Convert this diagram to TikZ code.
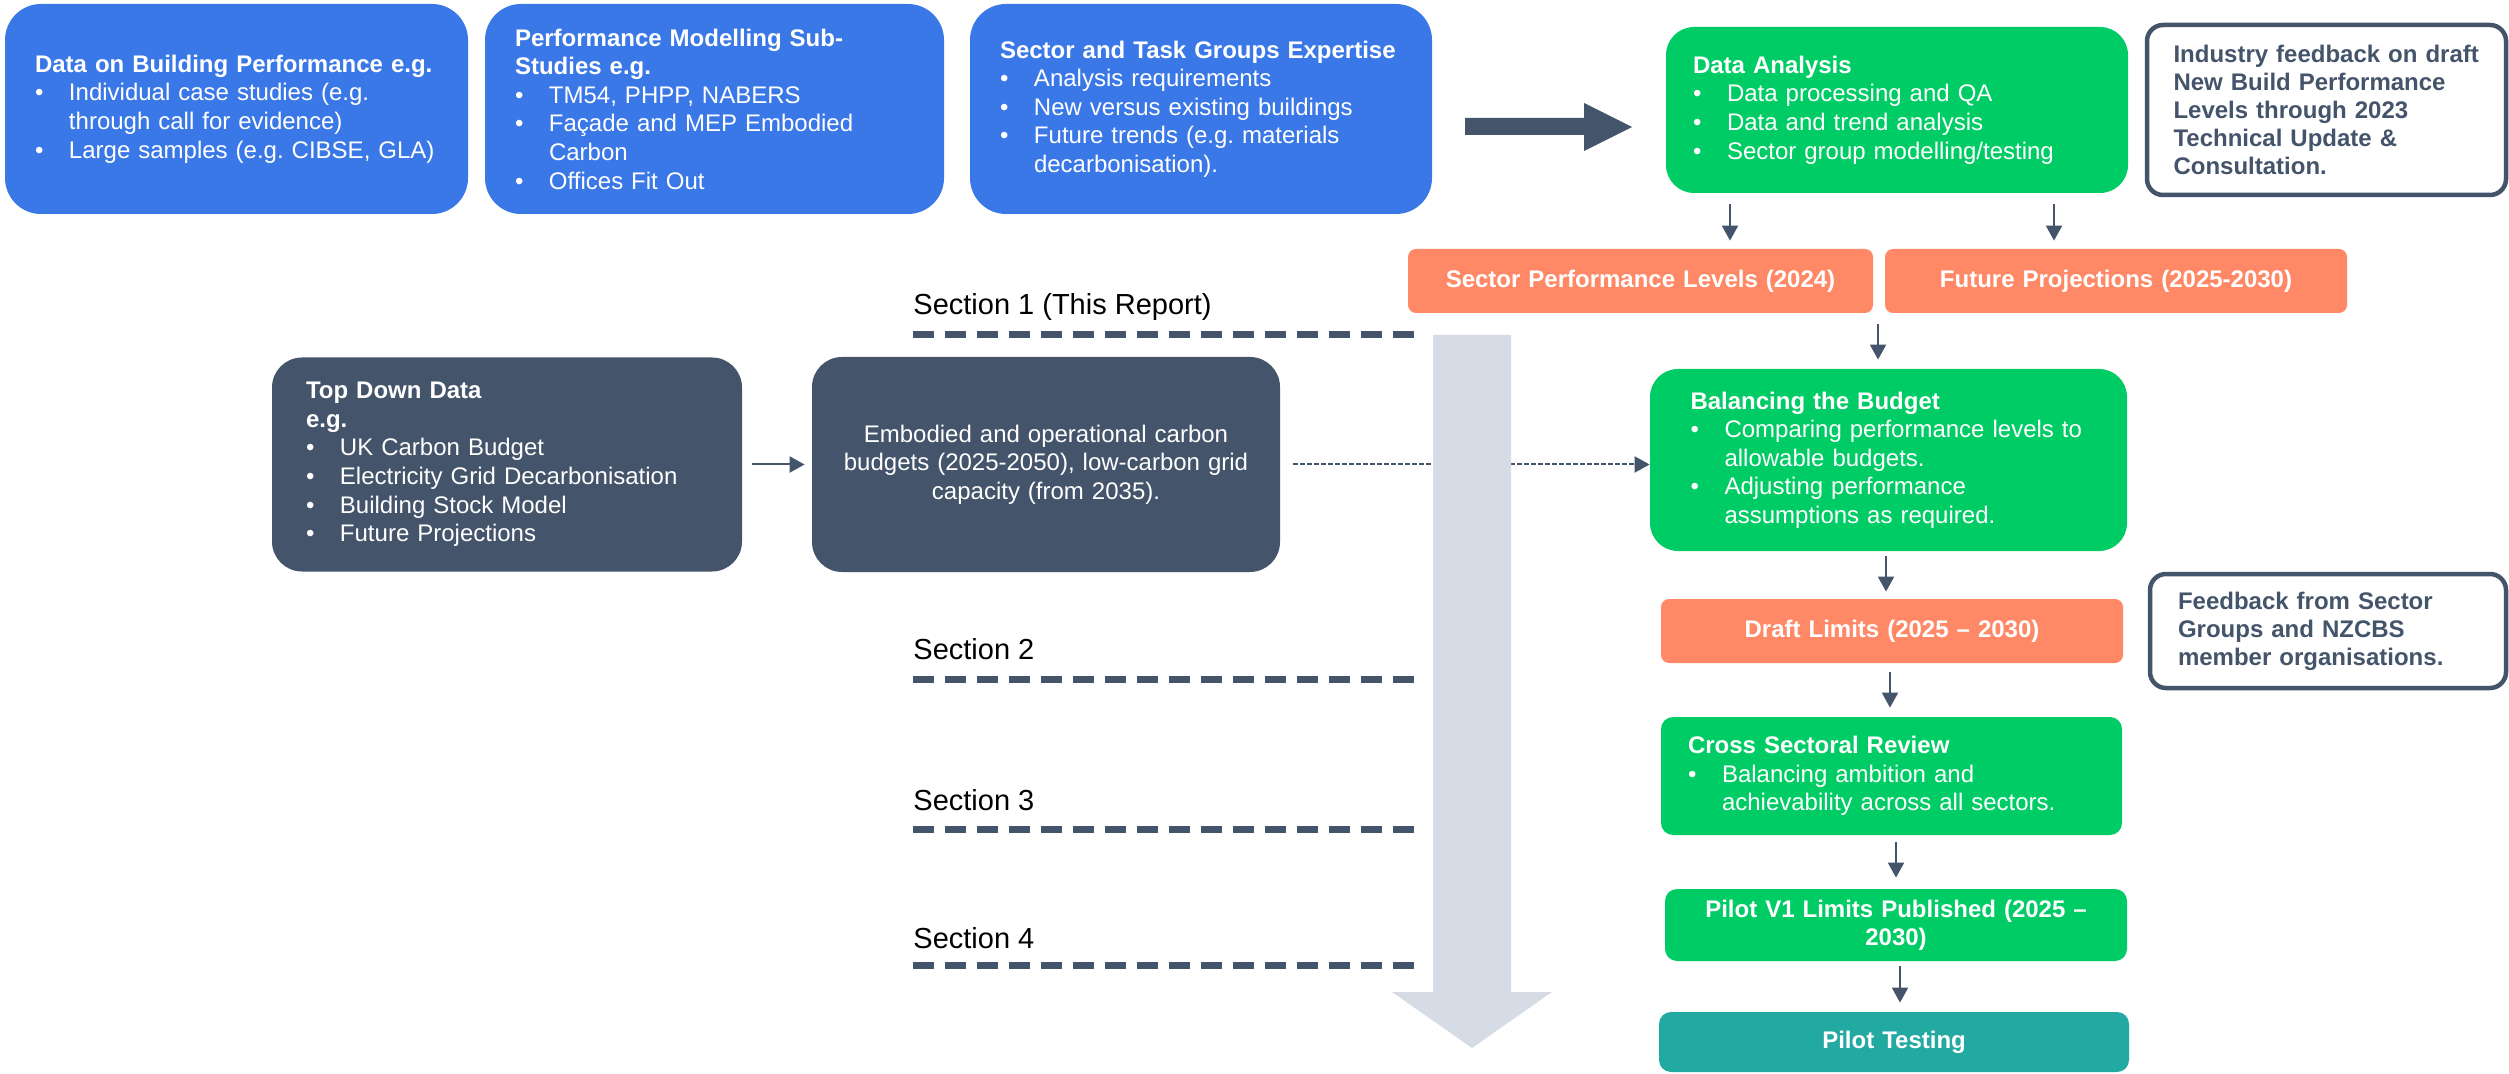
\documentclass[tikz,border=0pt]{standalone}
\usepackage{fontspec}
\setmainfont{Liberation Sans}
\usepackage{tikz}
\usetikzlibrary{arrows.meta}
\definecolor{blueback}{HTML}{3B78E7}
\definecolor{slate}{HTML}{44546A}
\definecolor{greenback}{HTML}{00CC66}
\definecolor{salmon}{HTML}{FF8966}
\definecolor{tealback}{HTML}{21A9A2}
\definecolor{shaftgray}{HTML}{D6DCE5}
\frenchspacing
\newcommand{\bul}[1]{\par\hangindent=17pt\hangafter=1\noindent\makebox[17pt][l]{\textbullet}#1\par}
\tikzset{
  arr/.style={-{Triangle[length=7.5pt,width=8pt]},line width=1pt,draw=slate},
  dotarr/.style={arr,dash pattern=on 2.25pt off 1.25pt},
  card/.style={rectangle,text=white,align=left,inner xsep=15pt,inner ysep=0pt,
    font=\fontsize{12}{14.3}\selectfont},
  bbox/.style={card,fill=blueback,rounded corners=18pt},
  sbox/.style={card,fill=slate,rounded corners=15pt},
  gbox/.style={card,fill=greenback,rounded corners=14pt},
  lbox/.style={card,align=center,inner xsep=4pt,rounded corners=4pt,
    font=\fontsize{12}{14}\selectfont\bfseries},
  nbox/.style={card,fill=white,draw=slate,line width=2.25pt,text=slate,
    rounded corners=8pt,font=\fontsize{12}{14}\selectfont\bfseries},
  seclbl/.style={anchor=west,inner sep=0pt,font=\fontsize{14.5}{17}\selectfont},
  secline/.style={draw=slate,line width=3.5pt,dash pattern=on 10.5pt off 5.5pt},
}

\begin{document}
\begin{tikzpicture}[x=0.5pt,y=-0.5pt]
\fill[white] (0,0) rectangle (2509,1074);
\useasboundingbox (0,0) rectangle (2509,1074);

% evidence along the top
\node[bbox,text width=201.5pt,minimum height=105pt] (bldg) at (236.5,109) {\textbf{Data on Building Performance e.g.}
  \bul{Individual case studies (e.g.\newline through call for evidence)}
  \bul{Large samples (e.g. CIBSE, GLA)}};
\node[bbox,text width=199.5pt,minimum height=105pt] (model) at (714.5,109) {\textbf{Performance Modelling Sub-\newline Studies e.g.}
  \bul{TM54, PHPP, NABERS}
  \bul{Façade and MEP Embodied\newline Carbon}
  \bul{Offices Fit Out}};
\node[bbox,text width=201pt,minimum height=105pt] (sector) at (1201,109) {\textbf{Sector and Task Groups Expertise}
  \bul{Analysis requirements}
  \bul{New versus existing buildings}
  \bul{Future trends (e.g. materials\newline decarbonisation).}};

% main flow on the right
\node[gbox,inner xsep=13.5pt,text width=204pt,minimum height=83pt] (da) at (1897,110) {\textbf{Data Analysis}
  \bul{Data processing and QA}
  \bul{Data and trend analysis}
  \bul{Sector group modelling/testing}};
\node[nbox,inner xsep=13.25pt,text width=153pt,minimum height=85pt] (ind) at (2326.5,110) {Industry feedback on draft\\New Build Performance\\Levels through 2023\\Technical Update \&\\Consultation.};
\node[lbox,fill=salmon,text width=224.5pt,minimum height=32pt] (spl) at (1640.5,281) {Sector Performance Levels (2024)};
\node[lbox,fill=salmon,text width=223pt,minimum height=32pt] (fp) at (2116,281) {Future Projections (2025-2030)};
\node[gbox,inner xsep=20.25pt,text width=198pt,minimum height=91pt] (bb) at (1888.5,460) {\textbf{Balancing the Budget}
  \bul{Comparing performance levels to\newline allowable budgets.}
  \bul{Adjusting performance\newline assumptions as required.}};
\node[lbox,fill=salmon,text width=223pt,minimum height=32pt] (draft) at (1892,631) {Draft Limits (2025 – 2030)};
\node[nbox,inner xsep=14pt,text width=150pt,minimum height=57pt] (fb) at (2328,631) {Feedback from Sector\\Groups and NZCBS\\member organisations.};
\node[gbox,rounded corners=6pt,inner xsep=13.5pt,text width=203.5pt,minimum height=59pt] (cross) at (1891.5,776) {\textbf{Cross Sectoral Review}
  \bul{Balancing ambition and\newline achievability across all sectors.}};
\node[lbox,fill=greenback,rounded corners=6pt,text width=223pt,minimum height=36pt] (pv) at (1896,925) {Pilot V1 Limits Published (2025 –\\2030)};
\node[lbox,fill=tealback,rounded corners=6pt,text width=227pt,minimum height=30pt] (pt) at (1894,1042) {Pilot Testing};

% top down inputs
\node[sbox,inner xsep=17pt,text width=201pt,minimum height=107pt] (td) at (507,464.5) {\textbf{Top Down Data\newline e.g.}
  \bul{UK Carbon Budget}
  \bul{Electricity Grid Decarbonisation}
  \bul{Building Stock Model}
  \bul{Future Projections}};
\node[sbox,align=center,text width=204pt,minimum height=107.5pt] (emb) at (1046,464.5) {Embodied and operational carbon\\budgets (2025-2050), low-carbon grid\\capacity (from 2035).};

% report sections
\node[seclbl] (sec1) at (913,307) {Section 1 (This Report)};
\node[seclbl] (sec2) at (913,649) {Section 2};
\node[seclbl] (sec3) at (913,800) {Section 3};
\node[seclbl] (sec4) at (913,938) {Section 4};
\draw[secline] (913,335) -- (1416,335);
\draw[secline] (913,679) -- (1416,679);
\draw[secline] (913,829) -- (1416,829);
\draw[secline] (913,965) -- (1416,965);

% connectors
\coordinate (ax1) at (1730,0);
\coordinate (ax2) at (2054,0);
\coordinate (ax3) at (1878,0);
\coordinate (ax4) at (1886,0);
\coordinate (ax5) at (1890,0);
\coordinate (ax6) at (1896,0);
\coordinate (ax7) at (1900,0);
\draw[arr,shorten <=5.5pt,shorten >=4pt] (da.south -| ax1) -- (spl.north -| ax1);
\draw[arr,shorten <=5.5pt,shorten >=4pt] (da.south -| ax2) -- (fp.north -| ax2);
\draw[arr,shorten <=5.5pt,shorten >=4.5pt] (fp.south -| ax3) -- (bb.north -| ax3);
\draw[arr,shorten <=2.5pt,shorten >=3.5pt] (bb.south -| ax4) -- (draft.north -| ax4);
\draw[arr,shorten <=4.5pt,shorten >=4.5pt] (draft.south -| ax5) -- (cross.north -| ax5);
\draw[arr,shorten <=3.5pt,shorten >=5.5pt] (cross.south -| ax6) -- (pv.north -| ax6);
\draw[arr,shorten <=2.5pt,shorten >=4.5pt] (pv.south -| ax7) -- (pt.north -| ax7);
\draw[arr,shorten <=5pt,shorten >=3.5pt] (td.east) -- (emb.west);
\draw[dotarr,shorten <=6.5pt] (emb.east) -- (emb.east -| bb.west);

% block arrows
\fill[slate] (1465,118) -- (1584,118) -- (1584,103) -- (1632,127) -- (1584,151) -- (1584,135) -- (1465,135) -- cycle;
\fill[shaftgray] (1433,335) -- (1511,335) -- (1511,992) -- (1552,992) -- (1472,1048) -- (1392,992) -- (1433,992) -- cycle;
\end{tikzpicture}
\end{document}
